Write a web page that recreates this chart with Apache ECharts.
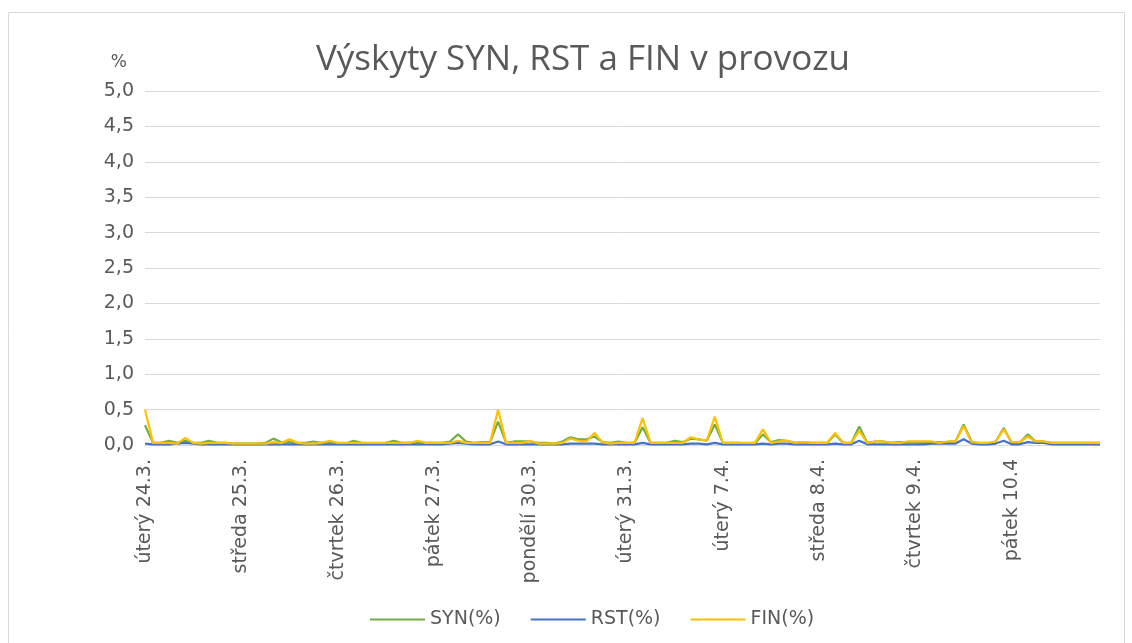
<!DOCTYPE html>
<html>
<head>
<meta charset="utf-8">
<script src="https://cdn.jsdelivr.net/npm/echarts@6/dist/echarts.min.js"></script>
<style>
  html, body { margin: 0; padding: 0; background: #fff; }
  #main { width: 1132px; height: 643px; }
</style>
</head>
<body>
<div id="main"></div>
<script>
// popisky dnu (12 mereni na den)
const dayLabels = ["úterý 24.3.", "středa 25.3.", "čtvrtek 26.3.", "pátek 27.3.", "pondělí 30.3.",
  "úterý 31.3.", "úterý 7.4.", "středa 8.4.", "čtvrtek 9.4.", "pátek 10.4"];
const perDay = 12;

const synValues = [
  0.28, 0.03, 0.03, 0.06, 0.03, 0.06, 0.03, 0.03, 0.06, 0.03, 0.03, 0.02,
  0.02, 0.02, 0.02, 0.03, 0.09, 0.04, 0.04, 0.03, 0.03, 0.05, 0.03, 0.04,
  0.02, 0.02, 0.06, 0.03, 0.02, 0.02, 0.03, 0.06, 0.03, 0.03, 0.04, 0.03,
  0.03, 0.03, 0.05, 0.15, 0.05, 0.03, 0.04, 0.04, 0.33, 0.03, 0.05, 0.05,
  0.05, 0.03, 0.03, 0.02, 0.05, 0.11, 0.08, 0.08, 0.12, 0.04, 0.03, 0.05,
  0.03, 0.03, 0.25, 0.03, 0.03, 0.03, 0.06, 0.04, 0.09, 0.08, 0.06, 0.29,
  0.03, 0.03, 0.03, 0.02, 0.02, 0.15, 0.04, 0.07, 0.06, 0.03, 0.04, 0.03,
  0.03, 0.03, 0.15, 0.03, 0.03, 0.26, 0.03, 0.05, 0.05, 0.03, 0.04, 0.04,
  0.04, 0.03, 0.04, 0.04, 0.04, 0.05, 0.29, 0.05, 0.02, 0.02, 0.05, 0.24,
  0.03, 0.03, 0.15, 0.05, 0.05, 0.03, 0.03, 0.03, 0.03, 0.03, 0.03, 0.03
];
const rstValues = [
  0.02, 0.01, 0.01, 0.01, 0.02, 0.03, 0.02, 0.01, 0.01, 0.01, 0.01, 0.01,
  0.01, 0.01, 0.01, 0.01, 0.01, 0.01, 0.01, 0.01, 0.01, 0.01, 0.01, 0.01,
  0.01, 0.01, 0.01, 0.01, 0.01, 0.01, 0.01, 0.01, 0.01, 0.01, 0.01, 0.01,
  0.01, 0.01, 0.02, 0.03, 0.02, 0.01, 0.01, 0.01, 0.05, 0.01, 0.01, 0.01,
  0.01, 0.01, 0.01, 0.01, 0.01, 0.02, 0.02, 0.02, 0.02, 0.01, 0.01, 0.01,
  0.01, 0.01, 0.03, 0.01, 0.01, 0.01, 0.01, 0.01, 0.02, 0.02, 0.01, 0.03,
  0.01, 0.01, 0.01, 0.01, 0.01, 0.02, 0.01, 0.02, 0.02, 0.01, 0.01, 0.01,
  0.01, 0.01, 0.02, 0.01, 0.01, 0.06, 0.01, 0.01, 0.01, 0.01, 0.01, 0.01,
  0.01, 0.01, 0.02, 0.02, 0.02, 0.02, 0.08, 0.02, 0.01, 0.01, 0.02, 0.06,
  0.01, 0.01, 0.04, 0.03, 0.03, 0.01, 0.01, 0.01, 0.01, 0.01, 0.01, 0.01
];
const finValues = [
  0.50, 0.03, 0.03, 0.03, 0.02, 0.10, 0.03, 0.02, 0.03, 0.03, 0.03, 0.02,
  0.02, 0.02, 0.02, 0.02, 0.04, 0.03, 0.08, 0.03, 0.02, 0.02, 0.03, 0.06,
  0.03, 0.03, 0.03, 0.03, 0.03, 0.03, 0.03, 0.03, 0.03, 0.03, 0.06, 0.03,
  0.03, 0.03, 0.03, 0.06, 0.03, 0.03, 0.03, 0.03, 0.50, 0.03, 0.03, 0.03,
  0.06, 0.02, 0.02, 0.02, 0.03, 0.09, 0.06, 0.05, 0.17, 0.04, 0.02, 0.03,
  0.03, 0.03, 0.38, 0.03, 0.03, 0.03, 0.03, 0.03, 0.11, 0.08, 0.06, 0.40,
  0.03, 0.03, 0.03, 0.03, 0.03, 0.22, 0.03, 0.05, 0.06, 0.03, 0.04, 0.03,
  0.03, 0.03, 0.17, 0.03, 0.03, 0.20, 0.03, 0.05, 0.05, 0.03, 0.03, 0.05,
  0.05, 0.05, 0.05, 0.03, 0.05, 0.05, 0.27, 0.04, 0.03, 0.03, 0.05, 0.22,
  0.04, 0.04, 0.12, 0.05, 0.05, 0.03, 0.03, 0.03, 0.03, 0.03, 0.03, 0.03
];

// kategorie: den|poradi mereni
let categories = [];
dayLabels.forEach(function(d) {
  for (let h = 0; h < perDay; h++) categories.push(d + "|" + h);
});

const textColor = "#595959";
const font = "DejaVu Sans";

let myChart = echarts.init(document.getElementById("main"));

let option = {
  backgroundColor: "#fff",
  animation: false,
  title: {
    text: "Výskyty SYN, RST a FIN v provozu",
    left: 578,
    textAlign: "center",
    top: 38,
    textStyle: { color: textColor, fontSize: 35, fontWeight: "normal", fontFamily: "Open Sans" }
  },
  graphic: [{
    type: "rect",
    shape: { x: 8.5, y: 12.5, width: 1116, height: 640 },
    style: { fill: "none", stroke: "#d9d9d9", lineWidth: 1 },
    silent: true
  }],
  legend: {
    top: 605,
    left: 365,
    itemWidth: 55,
    itemHeight: 2,
    itemGap: 30,
    icon: "rect",
    textStyle: { color: textColor, fontSize: 19, fontFamily: font },
    data: ["SYN(%)", "RST(%)", "FIN(%)"]
  },
  grid: { left: 145, right: 32, top: 91, bottom: 198, containLabel: false },
  xAxis: {
    type: "category",
    boundaryGap: false,
    data: categories,
    axisLine: { lineStyle: { color: "#d9d9d9" } },
    axisTick: { show: false },
    axisLabel: {
      interval: perDay - 1,
      rotate: 90,
      margin: 14,
      color: textColor,
      fontSize: 19,
      fontFamily: font,
      formatter: function(v) { return v.split("|")[0]; }
    }
  },
  yAxis: {
    type: "value",
    min: 0,
    max: 5,
    interval: 0.5,
    name: "%",
    nameLocation: "end",
    nameGap: 20,
    nameTextStyle: { color: textColor, fontSize: 17, fontFamily: font, align: "right", padding: [0, 18, 0, 0] },
    axisLine: { show: false },
    axisTick: { show: false },
    splitLine: { lineStyle: { color: "#d9d9d9" } },
    axisLabel: {
      color: textColor,
      fontSize: 19,
      fontFamily: font,
      margin: 11,
      formatter: function(v) { return v.toFixed(1).replace(".", ","); }
    }
  },
  series: [
    { name: "SYN(%)", type: "line", data: synValues, showSymbol: false, lineStyle: { width: 2.2 }, itemStyle: { color: "#70AD47" } },
    { name: "RST(%)", type: "line", data: rstValues, showSymbol: false, lineStyle: { width: 2.2 }, itemStyle: { color: "#4472C4" } },
    { name: "FIN(%)", type: "line", data: finValues, showSymbol: false, lineStyle: { width: 2.2 }, itemStyle: { color: "#FFC000" } }
  ]
};
myChart.setOption(option);
</script>
</body>
</html>
